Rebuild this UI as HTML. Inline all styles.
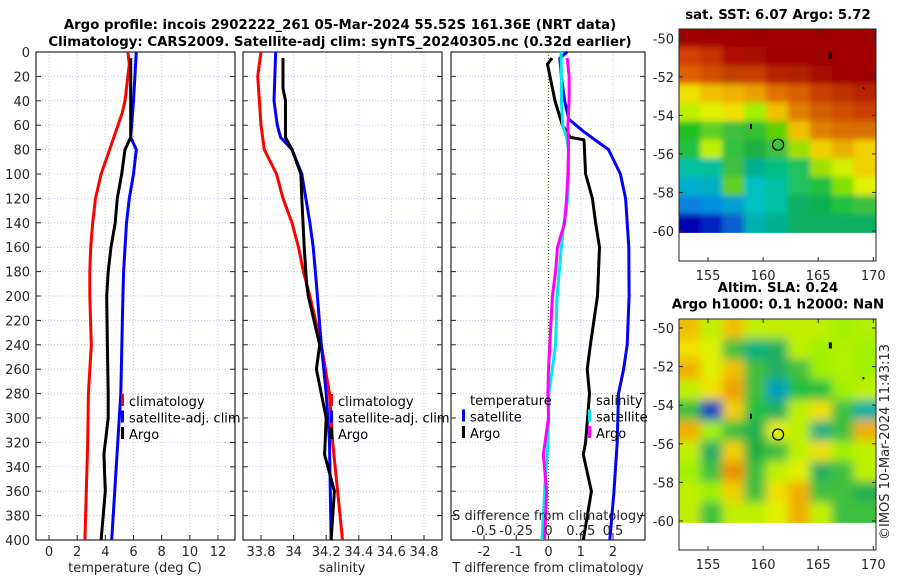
<!DOCTYPE html>
<html><head><meta charset="utf-8">
<style>
html,body{margin:0;padding:0;background:#fff;}
svg{display:block;font-family:"DejaVu Sans","Liberation Sans",sans-serif;}
.tk{font-size:13px;fill:#262626;}
.tt{font-size:13.3px;font-weight:bold;fill:#000;}
.lg{font-size:13px;fill:#000;}
</style></head>
<body>
<svg id="fig" width="900" height="580" viewBox="0 0 900 580" xmlns="http://www.w3.org/2000/svg">
<text class="tt" x="340" y="29" text-anchor="middle">Argo profile: incois 2902222_261 05-Mar-2024 55.52S 161.36E (NRT data)</text>
<text class="tt" x="340" y="46" text-anchor="middle">Climatology: CARS2009. Satellite-adj clim: synTS_20240305.nc (0.32d earlier)</text>
<g id="p1"></g>
<g id="p2"></g>
<g id="p3"></g>
<g id="m1"></g>
<g id="m2"></g>
<text class="tk" x="0" y="0" transform="translate(889,540) rotate(-90)">©IMOS 10-Mar-2024 11:43:13</text>
</svg>
<script>
// ---- data ----
const depthTicks=[0,20,40,60,80,100,120,140,160,180,200,220,240,260,280,300,320,340,360,380,400];
const tTicks=[0,2,4,6,8,10,12];
const sTicks=[33.8,34,34.2,34.4,34.6,34.8];
const sTickLabels=["33.8","34","34.2","34.4","34.6","34.8"];
const dTTicks=[-2,-1,0,1,2];
const dSTicks=[-0.5,-0.25,0,0.25,0.5];
const dSTickLabels=["-0.5","-0.25","0","0.25","0.5"];

const tClimDepth=[0,10,40,50,60,80,100,120,140,160,180,200,240,280,320,360,400];
const tClimVal=[5.6,5.7,5.4,5.2,4.9,4.3,3.7,3.3,3.1,2.96,2.9,2.9,3.0,2.8,2.75,2.65,2.55];
const tSatDepth=[0,40,70,80,100,120,140,180,200,280,400];
const tSatVal=[6.2,6.0,5.8,6.2,6.0,5.7,5.5,5.3,5.25,5.1,4.45];
const tArgoDepth=[5,70,80,100,120,140,160,180,200,240,280,300,330,360,400];
const tArgoVal=[5.8,5.8,5.4,5.16,4.85,4.7,4.4,4.2,4.1,4.15,4.2,4.2,3.9,4.0,3.7];

const sClimDepth=[0,20,60,80,100,120,140,160,180,200,240,280,320,360,400];
const sClimVal=[33.8,33.78,33.8,33.82,33.895,33.935,33.99,34.03,34.06,34.1,34.17,34.22,34.24,34.27,34.3];
const sSatDepth=[0,40,60,70,80,100,140,160,190,240,280,320,400];
const sSatVal=[33.89,33.88,33.9,33.92,33.99,34.05,34.1,34.12,34.14,34.17,34.2,34.22,34.23];
const sArgoDepth=[5,30,40,70,80,100,120,160,190,200,240,260,280,300,330,360,400];
const sArgoVal=[33.935,33.935,33.95,33.95,33.99,34.045,34.05,34.065,34.08,34.09,34.16,34.14,34.17,34.2,34.19,34.25,34.23];

const dTArgoDepth=[5,10,40,60,70,72,100,120,140,160,200,240,260,280,320,330,360,400];
const dTArgoVal=[0.11,-0.03,0.2,0.43,0.68,1.1,1.15,1.36,1.46,1.58,1.52,1.3,1.2,1.27,1.15,1.08,1.33,1.08];
const dTSatDepth=[0,5,20,40,55,65,80,100,120,160,200,240,260,280,320,360,400];
const dTSatVal=[0.58,0.35,0.4,0.5,0.63,1.08,1.86,2.23,2.39,2.49,2.5,2.44,2.33,2.17,2.13,2.03,1.9];
const dSSatDepth=[0,20,40,60,70,80,100,120,140,160,200,240,280,320,360,400];
const dSSatVal=[0.098,0.1,0.1,0.11,0.14,0.155,0.155,0.15,0.12,0.1,0.067,0.055,0.003,-0.005,-0.03,-0.05];
const dSArgoDepth=[5,20,40,60,80,100,120,140,160,180,200,240,260,280,300,330,360,400];
const dSArgoVal=[0.145,0.16,0.16,0.15,0.155,0.15,0.14,0.125,0.07,0.055,0.03,0.01,0,-0.005,0,-0.04,-0.015,-0.03];

const latTicks=[-50,-52,-54,-56,-58,-60];
const lonTicks=[155,160,165,170];
const sstGrid=[
["#a00000","#a00000","#a00000","#a00000","#a00000","#a00000","#a00000","#a00000","#a00000"],
["#d04000","#c83000","#b01000","#a80800","#a00000","#a00000","#a00000","#a00000","#a00000"],
["#e06000","#d05000","#c04000","#c84000","#b82000","#b02000","#a81000","#a00000","#a00000"],
["#f0e000","#f0c000","#f0b000","#e8a000","#e07000","#d86000","#c84000","#c03000","#b82000"],
["#c0f000","#e0f000","#f0e000","#a0f000","#f0c000","#e08000","#d06000","#d05000","#c84000"],
["#20c020","#60d020","#40c040","#30c030","#60d000","#f0c000","#e08000","#d87000","#d87000"],
["#20c040","#c0f000","#30c040","#20b040","#40c040","#a0e000","#f0d000","#e8b000","#f0d000"],
["#00c0a0","#00c0a0","#40c040","#00b090","#00c080","#20c060","#a0e000","#d0f000","#f0d000"],
["#00b0d0","#00b0c0","#60d020","#00c0c0","#00c0a0","#20c060","#20c040","#80e000","#e0f000"],
["#1080e0","#0090e0","#00a0d0","#00c0c0","#00c0a0","#10b060","#10b050","#20c040","#40c040"],
["#0000b0","#0020c0","#1060d0","#00b0b0","#00b090","#10b060","#10b060","#10b060","#10b060"]];
const slaGrid=[
["#f0c000","#c0f000","#f0c000","#c0f000","#c0f000","#c0f000","#c0f000","#a0f000","#b0f000"],
["#f0e000","#e0f000","#40c040","#00b080","#20b060","#c0f000","#a0f000","#b0f000","#a0f000"],
["#f0b000","#e0f000","#f0c000","#40c040","#20b060","#40c040","#a0f000","#b0f000","#a0f000"],
["#c0f000","#f0e000","#f0a000","#40c040","#00a0c0","#20c040","#20c040","#a0f000","#c0f000"],
["#40c040","#0040c0","#f0d000","#20c040","#20b060","#c0f000","#f0e000","#40c040","#00b0a0"],
["#f0b000","#a0f000","#40c040","#20b050","#e0f000","#c0f000","#20b080","#40c040","#f0b000"],
["#c0f000","#20b060","#f0d000","#20b040","#40c040","#c0f000","#f0e000","#a0f000","#c0f000"],
["#a0f000","#40c040","#f09000","#40c040","#c0f000","#e0f000","#20b060","#40c040","#c0f000"],
["#c0f000","#a0f000","#f0d000","#40c040","#f0e000","#f0b000","#40c040","#40c040","#20b050"],
["#c0f000","#40c040","#c0f000","#c0f000","#e0f000","#f0b000","#c0f000","#40c040","#40c040"]];
const argoLon=161.36, argoLat=-55.52;

// ---- helpers ----
const NS="http://www.w3.org/2000/svg";
function mk(parent,tag,attrs,name,txt){
  const e=document.createElementNS(NS,tag);
  for(const k in attrs)e.setAttribute(k,attrs[k]);
  
  
  if(txt!==undefined)e.textContent=txt;
  parent.appendChild(e);return e;
}
const Y0=52,Y1=540;
const yD=d=>Y0+(d/400)*(Y1-Y0);
function lin(d0,d1,r0,r1){return v=>r0+(v-d0)/(d1-d0)*(r1-r0);}

function panel(g,x0,x1,xs,xt,xl,opts){
  xt.forEach(v=>mk(g,'line',{x1:xs(v),x2:xs(v),y1:Y0,y2:Y1,stroke:'#c4c8ee','stroke-dasharray':'1,2','stroke-width':1},'grid-x'));
  depthTicks.forEach(d=>mk(g,'line',{x1:x0,x2:x1,y1:yD(d),y2:yD(d),stroke:'#c4c8ee','stroke-dasharray':'1,2','stroke-width':1},'grid-y'));
  mk(g,'rect',{x:x0,y:Y0,width:x1-x0,height:Y1-Y0,fill:'none',stroke:'#262626','stroke-width':1.2},'axes-frame');
  depthTicks.forEach(d=>{
    mk(g,'line',{x1:x0,x2:x0+5,y1:yD(d),y2:yD(d),stroke:'#262626'},'y-tick');
    mk(g,'line',{x1:x1-5,x2:x1,y1:yD(d),y2:yD(d),stroke:'#262626'},'y-tick');
    if(opts.ylabels)mk(g,'text',{x:x0-6,y:yD(d)+5,'text-anchor':'end',class:'tk'},'y-tick-label',String(d));
  });
  xt.forEach((v,i)=>{
    mk(g,'line',{x1:xs(v),x2:xs(v),y1:Y1,y2:Y1-5,stroke:'#262626'},'x-tick');
    mk(g,'text',{x:xs(v),y:556,'text-anchor':'middle',class:'tk'},'x-tick-label',xl[i]);
  });
}
function series(g,xs,depths,vals,color,name){
  const pts=depths.map((d,i)=>xs(vals[i]).toFixed(1)+','+yD(d).toFixed(1)).join(' ');
  mk(g,'polyline',{points:pts,fill:'none',stroke:color,'stroke-width':3,'stroke-linejoin':'round'},name);
}
function legend(g,x,y,items){
  items.forEach((it,i)=>{
    const yy=y+i*16.5;
    if(it.c)mk(g,'rect',{x:x-8,y:yy-7,width:3,height:12,fill:it.c},'legend-marker');
    mk(g,'text',{x:x,y:yy+5,class:'lg'},'legend-entry',it.t);
  });
}

{const g=document.getElementById('p1');const xs=lin(0,12,49,218);
panel(g,36,235,xs,tTicks,tTicks.map(String),{ylabels:true});
series(g,xs,tClimDepth,tClimVal,'#ff0000','climatology-line');
series(g,xs,tSatDepth,tSatVal,'#0000ff','satellite-clim-line');
series(g,xs,tArgoDepth,tArgoVal,'#000000','argo-line');
legend(g,129,401,[{t:'climatology',c:'#ff0000'},{t:'satellite-adj. clim',c:'#0000ff'},{t:'Argo',c:'#000'}]);
mk(g,'text',{x:135,y:572,'text-anchor':'middle',class:'tk'},'x-axis-title','temperature (deg C)');}
{const g=document.getElementById('p2');const xs=lin(33.8,34.8,261,424);
panel(g,243,442,xs,sTicks,sTickLabels,{ylabels:false});
series(g,xs,sClimDepth,sClimVal,'#ff0000','climatology-line');
series(g,xs,sSatDepth,sSatVal,'#0000ff','satellite-clim-line');
series(g,xs,sArgoDepth,sArgoVal,'#000000','argo-line');
legend(g,338,401,[{t:'climatology',c:'#ff0000'},{t:'satellite-adj. clim',c:'#0000ff'},{t:'Argo',c:'#000'}]);
mk(g,'text',{x:342,y:572,'text-anchor':'middle',class:'tk'},'x-axis-title','salinity');}
{const g=document.getElementById('p3');const xs=lin(-2,2,484,613);const xsS=lin(-0.5,0.5,484,613);
panel(g,451,645,xs,dTTicks,dTTicks.map(String),{ylabels:false});
mk(g,'line',{x1:xs(0),x2:xs(0),y1:Y0,y2:Y1,stroke:'#556b2f','stroke-dasharray':'1,2','stroke-width':1.2},'zero-line');
series(g,xs,dTSatDepth,dTSatVal,'#0000ff','t-diff-satellite-line');
series(g,xs,dTArgoDepth,dTArgoVal,'#000000','t-diff-argo-line');
series(g,xsS,dSSatDepth,dSSatVal,'#00e8e8','s-diff-satellite-line');
series(g,xsS,dSArgoDepth,dSArgoVal,'#ff00ff','s-diff-argo-line');
legend(g,470,400,[{t:'temperature'},{t:'satellite',c:'#0000ff'},{t:'Argo',c:'#000'}]);
legend(g,596,400,[{t:'salinity'},{t:'satellite',c:'#00e8e8'},{t:'Argo',c:'#ff00ff'}]);
mk(g,'text',{x:548,y:520,'text-anchor':'middle',class:'tk'},'s-axis-title','S difference from climatology');
dSTicks.forEach((v,i)=>mk(g,'text',{x:xsS(v),y:535,'text-anchor':'middle',class:'tk'},'s-tick-label',dSTickLabels[i]));
mk(g,'text',{x:548,y:572,'text-anchor':'middle',class:'tk'},'x-axis-title','T difference from climatology');}

function map(g,top,bot,latA,latB,grid,titles,blur){
  const L=679,R=876;
  const xs=lin(155,170,708,873.3), ys=lin(-50,-60,latA,latB);
  const lat1=-60.1;
  const id='clip'+top;
  const H=ys(lat1)-top;
  const defs=mk(g,'defs',{},'map-defs');
  const cp=mk(defs,'clipPath',{id:id},'map-clip');
  mk(cp,'rect',{x:L,y:top,width:R-L,height:H},'clip-rect');
  const f=mk(defs,'filter',{id:'bl'+top,filterUnits:'userSpaceOnUse',x:L-20,y:top-20,width:R-L+40,height:H+40},'blur-filter');
  mk(f,'feGaussianBlur',{stdDeviation:blur},'blur');
  const img=mk(g,'g',{'clip-path':'url(#'+id+')'},'map-image');
  const inner=mk(img,'g',{filter:'url(#bl'+top+')'},'map-cells');
  const nr=grid.length,nc=grid[0].length;
  const cw=(R-L)/nc,ch=H/nr;
  grid.forEach((row,r)=>row.forEach((c,k)=>{
    mk(inner,'rect',{x:L+k*cw-0.5-(k===0?12:0),y:top+r*ch-0.5-(r===0?12:0),width:cw+1.5+(k===0||k===nc-1?12:0),height:ch+1.5+(r===0||r===nr-1?12:0),fill:c},'map-cell');
  }));
  mk(g,'rect',{x:L,y:top,width:R-L,height:bot-top,fill:'none',stroke:'#262626','stroke-width':1},'map-frame');
  latTicks.forEach(v=>{
    mk(g,'line',{x1:L,x2:L+4,y1:ys(v),y2:ys(v),stroke:'#262626'},'lat-tick');
    mk(g,'line',{x1:R-4,x2:R,y1:ys(v),y2:ys(v),stroke:'#262626'},'lat-tick');
    mk(g,'text',{x:L-5,y:ys(v)+5,'text-anchor':'end',class:'tk'},'lat-tick-label',String(v));
  });
  lonTicks.forEach(v=>{
    mk(g,'line',{x1:xs(v),x2:xs(v),y1:bot,y2:bot-4,stroke:'#262626'},'lon-tick');
    mk(g,'line',{x1:xs(v),x2:xs(v),y1:top,y2:top+4,stroke:'#262626'},'lon-tick');
    mk(g,'text',{x:xs(v),y:bot+19,'text-anchor':'middle',class:'tk'},'lon-tick-label',String(v));
  });
  mk(g,'circle',{cx:xs(argoLon),cy:ys(argoLat),r:5.5,fill:'none',stroke:'#000','stroke-width':1.2},'argo-location-marker');
  mk(g,'rect',{x:xs(166.1)-1.5,y:ys(-50.9)-3,width:3,height:6,fill:'#000'},'island');
  mk(g,'rect',{x:xs(169.1)-1,y:ys(-52.6)-1,width:2,height:2,fill:'#000'},'island');
  mk(g,'rect',{x:xs(158.9)-1,y:ys(-54.6)-3,width:2,height:5,fill:'#000'},'island');
  titles.forEach((t,i)=>mk(g,'text',{x:778,y:titles.length===1?top-10:top-27+i*16.5,'text-anchor':'middle',class:'tt'},'map-title',t));
}
map(document.getElementById('m1'),29,261,38.3,231,sstGrid,['sat. SST: 6.07 Argo: 5.72'],3);
map(document.getElementById('m2'),319,550,328,521,slaGrid,['Altim. SLA: 0.24','Argo h1000: 0.1 h2000: NaN'],5);
</script>
</body></html>
